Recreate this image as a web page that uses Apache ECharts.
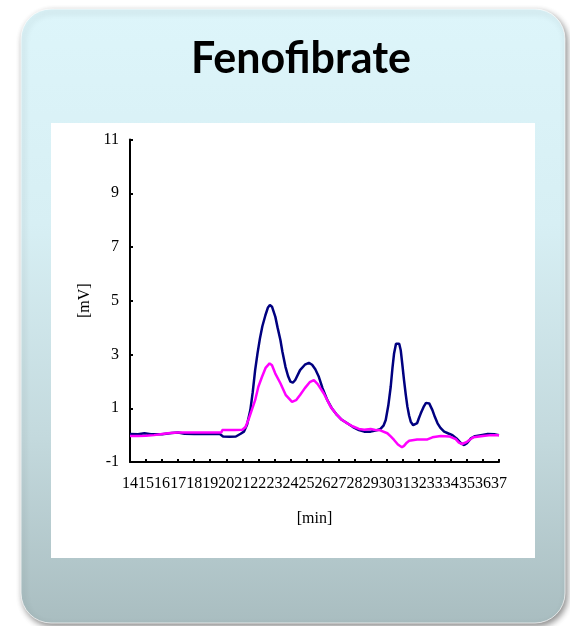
<!DOCTYPE html>
<html>
<head>
<meta charset="utf-8">
<script src="https://cdn.jsdelivr.net/npm/echarts@6/dist/echarts.min.js"></script>
<style>
  html, body { margin: 0; padding: 0; background: #ffffff; }
  #chart { width: 570px; height: 626px; }
</style>
</head>
<body>
<div id="chart"></div>
<script>
// Chromatogram traces: retention time [min] and detector signal [mV]
const blueTime = [14.0, 14.5, 14.9, 15.3, 16.0, 16.6, 17.0, 17.4, 18.0, 19.0, 19.6, 19.8, 20.2, 20.6, 20.9,
  21.1, 21.3, 21.5, 21.65, 21.8, 21.95, 22.1, 22.25, 22.44, 22.6, 22.72, 22.85, 23.06, 23.2, 23.375, 23.5,
  23.69, 23.85, 24.0, 24.15, 24.3, 24.6, 24.9, 25.15, 25.35, 25.55, 25.77, 26.0, 26.3, 26.6, 26.9, 27.2,
  27.54, 27.9, 28.27, 28.6, 29.0, 29.3, 29.6, 29.8, 29.94, 30.1, 30.25, 30.36, 30.46, 30.58, 30.67, 30.78,
  30.875, 30.98, 31.08, 31.19, 31.29, 31.4, 31.5, 31.65, 31.77, 31.9, 32.0, 32.125, 32.3, 32.45, 32.54,
  32.65, 32.85, 33.0, 33.17, 33.35, 33.58, 33.85, 34.1, 34.35, 34.625, 34.83, 35.0, 35.25, 35.5, 35.875,
  36.3, 36.7, 37.0];
const blueMv = [0.04, 0.03, 0.07, 0.03, 0.03, 0.08, 0.1, 0.05, 0.04, 0.04, 0.04, -0.05, -0.06, -0.05, 0.05,
  0.13, 0.4, 0.93, 1.6, 2.42, 3.05, 3.6, 4.05, 4.46, 4.75, 4.84, 4.78, 4.4, 4.0, 3.54, 3.1,
  2.54, 2.2, 1.99, 1.95, 2.05, 2.42, 2.62, 2.69, 2.62, 2.45, 2.17, 1.75, 1.3, 0.98, 0.75, 0.57,
  0.44, 0.3, 0.19, 0.13, 0.13, 0.17, 0.22, 0.35, 0.56, 1.1, 1.8, 2.5, 3.04, 3.4, 3.47, 3.4,
  3.16, 2.6, 2.05, 1.5, 1.06, 0.72, 0.5, 0.37, 0.34, 0.45, 0.62, 0.81, 1.05, 1.2, 1.24,
  1.18, 0.93, 0.68, 0.44, 0.27, 0.13, 0.06, 0.0, -0.12, -0.3, -0.37, -0.3, -0.12, -0.04, 0.0,
  0.04, 0.03, 0.0];

const pinkTime = [14.0, 14.5, 15.0, 15.5, 16.0, 16.5, 17.0, 18.0, 19.0, 19.7, 19.75, 20.5, 21.0, 21.2, 21.4,
  21.6, 21.8, 22.0, 22.23, 22.45, 22.7, 22.85, 23.05, 23.375, 23.7, 24.1, 24.35, 24.6, 24.9, 25.2, 25.46,
  25.7, 26.08, 26.5, 26.9, 27.2, 27.54, 27.9, 28.27, 28.6, 29.0, 29.3, 29.6, 30.04, 30.25, 30.46, 30.7,
  30.95, 31.08, 31.25, 31.4, 31.9, 32.54, 32.85, 33.375, 33.9, 34.3, 34.5, 34.7, 35.0, 35.4, 36.0, 36.5, 37.0];
const pinkMv = [-0.03, -0.03, -0.02, 0.0, 0.04, 0.08, 0.1, 0.1, 0.1, 0.1, 0.19, 0.19, 0.2, 0.3, 0.6,
  0.95, 1.3, 1.8, 2.17, 2.5, 2.67, 2.6, 2.3, 1.93, 1.5, 1.24, 1.3, 1.49, 1.75, 1.97, 2.05,
  1.9, 1.55, 1.06, 0.75, 0.57, 0.44, 0.32, 0.23, 0.2, 0.23, 0.19, 0.18, 0.07, -0.05, -0.18, -0.35,
  -0.45, -0.4, -0.28, -0.21, -0.16, -0.16, -0.08, -0.03, -0.05, -0.15, -0.28, -0.33, -0.25, -0.08, -0.03, 0.0, 0.0];

const timeMin = 14, timeMax = 37;
const mvMin = -1, mvMax = 11, mvStep = 2;

const pair = (xs, ys) => xs.map((x, i) => [x, ys[i]]);

const chart = echarts.init(document.getElementById('chart'));
const serif = '"Liberation Serif", "Times New Roman", serif';

chart.setOption({
  animation: false,
  backgroundColor: '#ffffff',
  title: {
    text: 'Fenofibrate',
    left: 296,
    top: 33,
    textAlign: 'center',
    textStyle: { fontFamily: 'Lato', fontWeight: 'bold', fontSize: 43, color: '#000000' }
  },
  graphic: [
    {
      type: 'rect', z: -20, silent: true,
      shape: { x: 21, y: 9, width: 544, height: 614, r: 30 },
      style: {
        fill: new echarts.graphic.LinearGradient(0, 0, 0, 1, [
          { offset: 0, color: '#ddf5fa' },
          { offset: 0.35, color: '#d7eff4' },
          { offset: 0.7, color: '#c3d9dd' },
          { offset: 1, color: '#a9bdc0' }
        ]),
        stroke: 'rgba(255,255,255,0.7)', lineWidth: 1,
        shadowBlur: 6, shadowOffsetX: 2, shadowOffsetY: 3, shadowColor: 'rgba(0,0,0,0.45)'
      }
    },
    {
      type: 'rect', z: -10, silent: true,
      shape: { x: 51, y: 123, width: 484, height: 435 },
      style: { fill: '#ffffff' }
    }
  ],
  grid: { left: 130, right: 71, top: 139.5, bottom: 164, containLabel: false },
  xAxis: {
    type: 'value',
    min: timeMin, max: timeMax, interval: 1,
    name: '[min]', nameLocation: 'middle', nameGap: 49,
    nameTextStyle: { fontFamily: serif, fontSize: 16, color: '#000' },
    axisLine: { onZero: false, lineStyle: { color: '#000', width: 2 } },
    axisTick: { inside: true, length: 3, lineStyle: { color: '#000', width: 2 } },
    axisLabel: { fontFamily: serif, fontSize: 16, color: '#000', margin: 14, interval: 0, hideOverlap: false },
    splitLine: { show: false }
  },
  yAxis: {
    type: 'value',
    min: mvMin, max: mvMax, interval: mvStep,
    name: '[mV]', nameLocation: 'middle', nameGap: 33,
    nameTextStyle: { fontFamily: serif, fontSize: 16, color: '#000' },
    axisLine: { show: true, onZero: false, lineStyle: { color: '#000', width: 2 } },
    axisTick: { show: true, inside: true, length: 3, lineStyle: { color: '#000', width: 2 } },
    axisLabel: { fontFamily: serif, fontSize: 16, color: '#000', margin: 11 },
    splitLine: { show: false }
  },
  series: [
    {
      type: 'line', data: pair(blueTime, blueMv), showSymbol: false,
      lineStyle: { color: '#000080', width: 2.5 }, z: 3
    },
    {
      type: 'line', data: pair(pinkTime, pinkMv), showSymbol: false,
      lineStyle: { color: '#ff00ff', width: 2.5 }, z: 4
    }
  ]
});
</script>
</body>
</html>
